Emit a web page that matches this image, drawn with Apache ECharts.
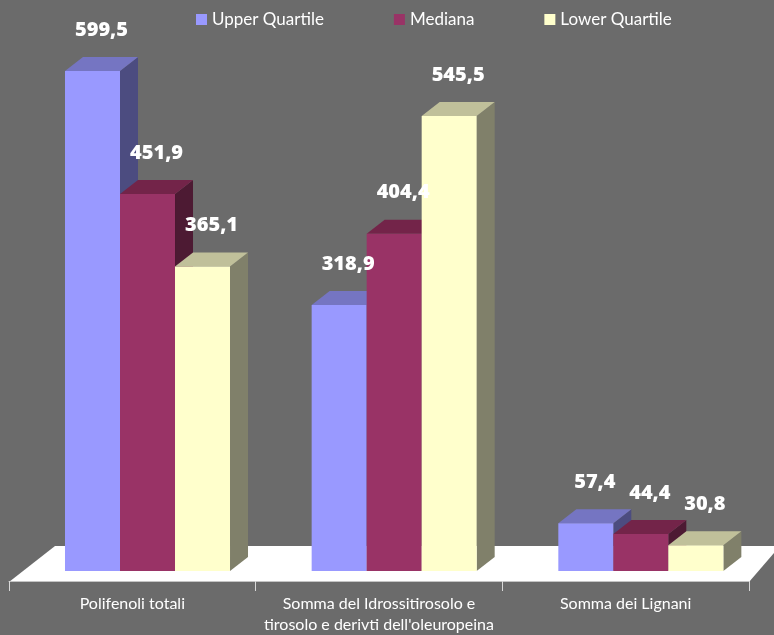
<!DOCTYPE html>
<html>
<head>
<meta charset="utf-8">
<script src="https://cdn.jsdelivr.net/npm/echarts@6/dist/echarts.min.js"></script>
<style>
html,body{margin:0;padding:0;background:#6b6b6b;}
#chart{width:774px;height:635px;}
</style>
</head>
<body>
<div id="chart"></div>
<script>
// ---- data ----
var categories = [
  "Polifenoli totali",
  "Somma del Idrossitirosolo e\ntirosolo e derivti dell'oleuropeina",
  "Somma dei Lignani"
];
var seriesNames = ["Upper Quartile", "Mediana", "Lower Quartile"];
var upperQuartile = [599.5, 318.9, 57.4];
var mediana = [451.9, 404.4, 44.4];
var lowerQuartile = [365.1, 545.5, 30.8];

// ---- styles ----
var faceColors = [
  {front: '#9999ff', top: '#7575c2', side: '#4c4c80'},
  {front: '#993366', top: '#732449', side: '#4d1a33'},
  {front: '#ffffcc', top: '#c0c09a', side: '#80806a'}
];
var DX = 18, DY = 14;      // bar depth projection
var BACK = 10;             // bars stand this far behind the floor front edge (vertical px)

function fmt(v){ return v.toFixed(1).replace('.', ','); }

function geom(params, api){
  var si = params.seriesIndex % 3;
  var c = api.value(0), v = api.value(1);
  var base = api.coord([c, 0]);
  var topP = api.coord([c, v]);
  var band = api.size([1, 0])[0];
  var barW = band * 0.223;
  var x0 = base[0] - band / 2 + band * 0.227 + si * barW;
  return {si: si, v: v, x0: x0, x1: x0 + barW, w: barW, yb: base[1] - BACK, yt: topP[1] - BACK};
}

function renderBar(params, api){
  var g = geom(params, api);
  var col = faceColors[g.si];
  var x0 = g.x0, x1 = g.x1, yb = g.yb, yt = g.yt;
  return {
    type: 'group',
    children: [
      {type: 'polygon', shape: {points: [[x1, yb], [x1, yt], [x1 + DX, yt - DY], [x1 + DX, yb - DY]]}, style: {fill: col.side}},
      {type: 'polygon', shape: {points: [[x0, yt], [x1, yt], [x1 + DX, yt - DY], [x0 + DX, yt - DY]]}, style: {fill: col.top}},
      {type: 'rect', shape: {x: x0, y: yt, width: g.w, height: yb - yt}, style: {fill: col.front}}
    ]
  };
}

function renderLabel(params, api){
  var g = geom(params, api);
  var cx = (g.x0 + g.x1 + DX) / 2, cy = g.yt - DY / 2;
  return {
    type: 'text',
    style: {
      text: fmt(g.v), x: cx, y: cy - 34, align: 'center', verticalAlign: 'middle',
      fill: '#ffffff', font: '800 20px "Open Sans", Lato, sans-serif',
      shadowColor: 'rgba(0,0,0,0.45)', shadowBlur: 3, shadowOffsetX: 1, shadowOffsetY: 1
    }
  };
}

function makeSeries(name, values, idx, isLabel){
  return {
    name: isLabel ? '_label' + idx : name,
    type: 'custom',
    renderItem: isLabel ? renderLabel : renderBar,
    itemStyle: {color: faceColors[idx].front},
    data: values.map(function(v, i){ return [i, v]; }),
    encode: {x: 0, y: 1},
    z: isLabel ? 20 : 3 + idx
  };
}

var chart = echarts.init(document.getElementById('chart'), null, {renderer: 'canvas'});
chart.setOption({
  backgroundColor: '#6b6b6b',
  animation: false,
  legend: {
    data: seriesNames,
    left: 196, top: 11, padding: 0,
    itemWidth: 11, itemHeight: 11, itemGap: 70, itemTextGap: 4,
    icon: 'rect',
    textStyle: {color: '#ffffff', fontFamily: 'Lato', fontSize: 17, lineHeight: 17}
  },
  grid: {left: 9, right: 25, top: 80.6, bottom: 53},
  graphic: [{
    type: 'polygon', z: 0,
    shape: {points: [[9, 582], [55, 546], [780, 546], [749, 582]]},
    style: {fill: '#ffffff'}
  }],
  xAxis: {
    type: 'category',
    data: categories,
    axisLine: {show: true, lineStyle: {color: '#c4c4c4', width: 1}},
    axisTick: {show: true, length: 10, lineStyle: {color: '#d9d9d9'}},
    axisLabel: {color: '#ffffff', fontFamily: 'Lato', fontSize: 16, lineHeight: 21, margin: 12, interval: 0}
  },
  yAxis: {type: 'value', min: 0, max: 600, show: false, splitLine: {show: false}},
  series: [
    makeSeries(seriesNames[0], upperQuartile, 0, false),
    makeSeries(seriesNames[1], mediana, 1, false),
    makeSeries(seriesNames[2], lowerQuartile, 2, false),
    makeSeries(seriesNames[0], upperQuartile, 0, true),
    makeSeries(seriesNames[1], mediana, 1, true),
    makeSeries(seriesNames[2], lowerQuartile, 2, true)
  ]
});
</script>
</body>
</html>
